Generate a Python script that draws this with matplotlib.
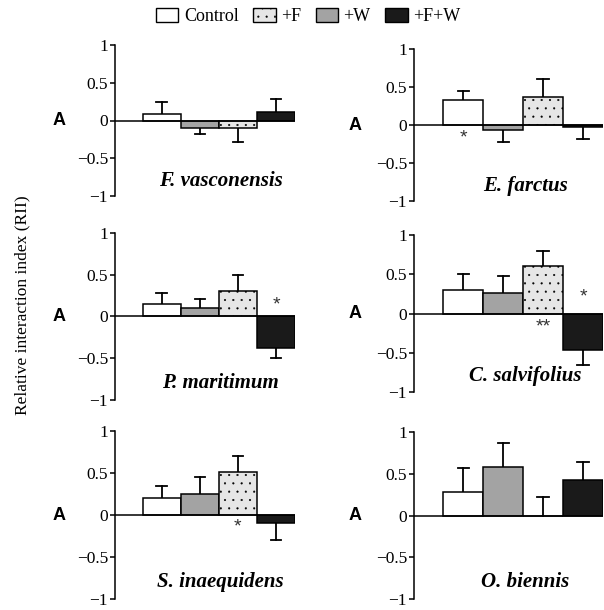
import matplotlib
matplotlib.use("Agg")
import matplotlib.pyplot as plt
import matplotlib.transforms as mtransforms
from matplotlib.patches import Patch

plt.rcParams['font.family'] = 'Liberation Serif'
plt.rcParams['hatch.linewidth'] = 0.3
plt.rcParams['hatch.color'] = '#333333'

# bar order inside each panel: Control, +W, +F, +F+W
species = ["F. vasconensis", "E. farctus", "P. maritimum",
           "C. salvifolius", "S. inaequidens", "O. biennis"]
means = [
    [0.08, -0.105, -0.105, 0.115],
    [0.325, -0.065, 0.37, -0.02],
    [0.145, 0.10, 0.30, -0.375],
    [0.30, 0.255, 0.61, -0.47],
    [0.205, 0.25, 0.515, -0.10],
    [0.28, 0.575, 0.0, 0.43],
]
err_ends = [
    [0.24, -0.18, -0.285, 0.285],
    [0.45, -0.23, 0.60, -0.18],
    [0.28, 0.205, 0.50, -0.50],
    [0.50, 0.48, 0.80, -0.65],
    [0.34, 0.45, 0.70, -0.30],
    [0.57, 0.87, 0.22, 0.64],
]
# (panel, bar, label, y)
stars = [
    (1, 0, "*", -0.17),
    (2, 3, "*", 0.14),
    (3, 2, "**", -0.17),
    (3, 3, "*", 0.21),
    (4, 2, "*", -0.14),
]

face = ["white", "#a3a3a3", "#e6e6e6", "#1a1a1a"]
hatch = [None, None, "..", None]

# axes boxes in pixels (left, top, right, bottom) for a 604x610 figure
boxes = [
    (115, 45, 295, 196), (414, 49, 603, 201),
    (115, 233, 295, 400), (414, 235, 603, 392),
    (115, 431, 295, 599), (414, 432, 603, 599),
]

W, H = 604, 610
fig = plt.figure(figsize=(W / 100, H / 100), dpi=100)

for i, name in enumerate(species):
    l, t, r, b = boxes[i]
    ax = fig.add_axes([l / W, 1 - b / H, (r - l) / W, (b - t) / H])
    for bar_i in range(4):
        ax.bar([bar_i], [means[i][bar_i]], width=1.0, color=face[bar_i],
               edgecolor="black", linewidth=1.1, hatch=hatch[bar_i], zorder=3)
    for bar_i in range(4):
        m = means[i][bar_i]
        e = err_ends[i][bar_i]
        ax.plot([bar_i, bar_i], [m, e], color="black", lw=1.3, zorder=2)
        ax.plot([bar_i - 0.14, bar_i + 0.14], [e, e], color="black", lw=1.3, zorder=2)
    ax.axhline(0, color="black", lw=1.1, zorder=5)
    ax.set_xlim(-1.23, 3.5)
    ax.set_ylim(-1, 1)
    ax.set_yticks([1, 0.5, 0, -0.5, -1])
    ax.set_yticklabels(["1", "0.5", "0", "\u22120.5", "\u22121"], fontsize=12.5)
    ax.tick_params(axis="y", direction="out", length=3.5, width=1.1, pad=1.5)
    ax.set_xticks([])
    for s in ["top", "right", "bottom"]:
        ax.spines[s].set_visible(False)
    ax.spines["left"].set_linewidth(1.1)
    ax.patch.set_alpha(0)
    ax.text(1.55, -0.8, name, ha="center", va="center", fontsize=15,
            fontweight="bold", fontstyle="italic")
    trans = mtransforms.blended_transform_factory(ax.transAxes, ax.transData)
    ax.text(-0.31, 0, "A", transform=trans, ha="center", va="center",
            fontsize=13, fontweight="bold", family="Liberation Sans")

for p, bi, lab, y in stars:
    ax = fig.axes[p]
    ax.text(bi, y, lab, ha="center", va="center", fontsize=14,
            family="Liberation Sans", color="#333333")

handles = [
    Patch(facecolor="white", edgecolor="black", linewidth=1.0),
    Patch(facecolor="#e6e6e6", edgecolor="black", linewidth=1.0, hatch=".."),
    Patch(facecolor="#a3a3a3", edgecolor="black", linewidth=1.0),
    Patch(facecolor="#1a1a1a", edgecolor="black", linewidth=1.0),
]
fig.legend(handles, ["Control", "+F", "+W", "+F+W"], loc="center",
           bbox_to_anchor=(0.51, 0.973), ncol=4, frameon=False, fontsize=13,
           handlelength=1.25, handleheight=0.85, handletextpad=0.3,
           columnspacing=0.8)

fig.text(22 / W, 0.5, "Relative interaction index (RII)", rotation=90,
         ha="center", va="center", fontsize=12.5)

fig.savefig("out.png", dpi=100)
